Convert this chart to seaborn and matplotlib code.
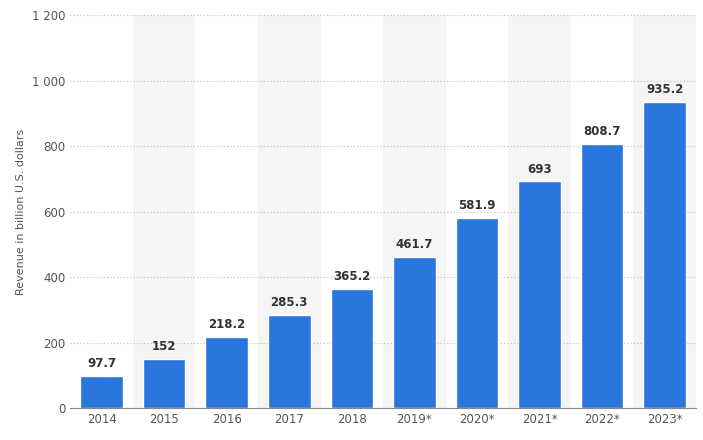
import numpy as np
import pandas as pd
import matplotlib.pyplot as plt
import seaborn as sns

years = ['2014', '2015', '2016', '2017', '2018', '2019*', '2020*', '2021*', '2022*', '2023*']
revenue = [97.7, 152, 218.2, 285.3, 365.2, 461.7, 581.9, 693, 808.7, 935.2]
labels = ['97.7', '152', '218.2', '285.3', '365.2', '461.7', '581.9', '693', '808.7', '935.2']

df = pd.DataFrame({'year': years, 'revenue': revenue})

sns.set_style('white')
fig, ax = plt.subplots(figsize=(7.03, 4.4), dpi=100)
fig.subplots_adjust(left=0.1, right=0.99, top=0.965, bottom=0.072)

# shaded background columns
for i in range(1, len(years), 2):
    ax.axvspan(i - 0.5, i + 0.5, color='#f5f5f5', zorder=0, lw=0)

sns.barplot(data=df, x='year', y='revenue', color='#2a76dd', width=0.68,
            saturation=1, ax=ax, zorder=3)

for i, (v, t) in enumerate(zip(revenue, labels)):
    ax.text(i, v + 18, t, ha='center', va='bottom', fontsize=8.5,
            fontweight='bold', color='#333333', zorder=4)

ax.set_ylim(0, 1200)
ax.set_xlim(-0.5, len(years) - 0.5)
ax.set_yticks(range(0, 1201, 200))
ax.set_yticklabels(['0', '200', '400', '600', '800', '1 000', '1 200'])
ax.yaxis.grid(True, linestyle=(0, (1, 2)), color='#bbbbbb', lw=0.8, zorder=1)
ax.set_axisbelow(True)
ax.set_xlabel('')
ax.set_ylabel('Revenue in billion U.S. dollars', fontsize=8, color='#555555')
ax.tick_params(axis='both', labelsize=8.5, colors='#555555', length=0)
for s in ['top', 'right', 'left']:
    ax.spines[s].set_visible(False)
ax.spines['bottom'].set_color('#888888')

fig.savefig('out.png', dpi=100)
